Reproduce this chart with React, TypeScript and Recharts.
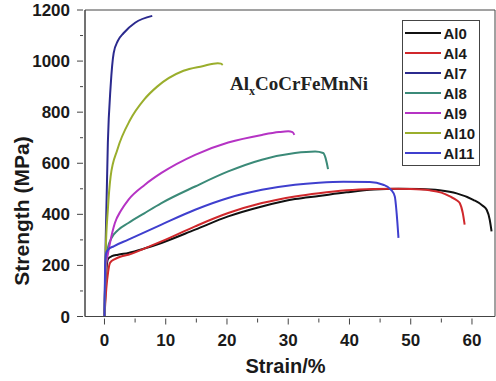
import * as React from "react";
import { LineChart, Line, XAxis, YAxis, ReferenceArea } from "recharts";

// [strain %, strength MPa]
const al0 = [
  [0, 0], [0.2, 120], [0.4, 205], [0.6, 226], [1.2, 236], [2.2, 242], [3.9, 249], [6.5, 266],
  [9.3, 288], [14.8, 340], [20.2, 392], [25.7, 431], [31.1, 460], [35, 472], [39.5, 486],
  [44, 497], [48, 500], [51.5, 499], [54.7, 494], [57.5, 482], [60.2, 457], [61.7, 435],
  [62.4, 418], [62.9, 379], [63.2, 333]
];
const al4 = [
  [0, 0], [0.3, 110], [0.6, 175], [0.9, 210], [1.7, 225], [2.7, 235], [3.9, 242], [6.5, 266],
  [9.3, 294], [14.8, 353], [20.2, 405], [25.7, 444], [31.1, 470], [35, 483], [39.5, 494],
  [44, 499], [47, 500], [50, 499], [53.1, 494], [55, 485], [56.4, 470], [57.5, 455], [58, 444],
  [58.5, 405], [58.8, 360]
];
const al7 = [
  [0, 0], [0.2, 300], [0.55, 679], [1, 900], [1.5, 1031], [2.2, 1080], [3.1, 1109], [5, 1150], [7.8, 1177]
];
const al8 = [
  [0, 0], [0.2, 200], [0.5, 265], [1.17, 308], [2.2, 338], [3.9, 366], [6.5, 404], [9.3, 444],
  [14.8, 509], [20.2, 568], [25.7, 614], [31.1, 640], [34.4, 646], [35.7, 640], [36.1, 620], [36.5, 577]
];
const al9 = [
  [0, 0], [0.2, 180], [0.6, 250], [0.9, 288], [1.7, 366], [2.7, 415], [3.9, 457], [6.6, 516],
  [9.3, 562], [14.8, 633], [20.2, 681], [25.7, 711], [28.5, 722], [30, 725], [30.7, 722], [31, 711]
];
const al10 = [
  [0, 0], [0.2, 250], [0.55, 418], [1, 548], [2.1, 653], [4.2, 770], [6.5, 850], [8.6, 900],
  [12.9, 962], [16, 980], [18.5, 992], [19, 990], [19.3, 985]
];
const al11 = [
  [0, 0], [0.1, 200], [0.3, 250], [0.6, 262], [1.5, 275], [3.9, 301], [9.3, 360], [14.8, 418],
  [20.2, 464], [25.7, 496], [31.1, 516], [35, 524], [39, 528], [43.3, 527], [45.5, 516],
  [46.8, 496], [47.4, 470], [47.7, 405], [48, 308]
];

const seriesNames = ["Al0", "Al4", "Al7", "Al8", "Al9", "Al10", "Al11"];
const seriesColors = ["#111111", "#d0282c", "#2b2a8e", "#3b8a78", "#b533c4", "#9aae2c", "#3f3fce"];
const seriesData = [al0, al4, al7, al8, al9, al10, al11];

const xTicks = [0, 5, 10, 15, 20, 25, 30, 35, 40, 45, 50, 55, 60];
const yTicks = [0, 100, 200, 300, 400, 500, 600, 700, 800, 900, 1000, 1100, 1200];

const font = "'Liberation Sans', Arial, sans-serif";
const axisColor = "#444";

const XTick = (props: any) => {
  const { x, y, payload } = props;
  const major = payload.value % 10 === 0;
  return (
    <g>
      <line x1={x} y1={y} x2={x} y2={y + (major ? 6 : 4)} stroke={axisColor} />
      {major && (
        <text x={x} y={y + 27} textAnchor="middle" fontFamily={font} fontWeight="bold" fontSize={17} fill="#1a1a1a">
          {payload.value}
        </text>
      )}
    </g>
  );
};

const YTick = (props: any) => {
  const { x, y, payload } = props;
  const major = payload.value % 200 === 0;
  return (
    <g>
      <line x1={x - (major ? 6 : 3)} y1={y} x2={x} y2={y} stroke={axisColor} />
      {major && (
        <text x={x - 13} y={y + 6} textAnchor="end" fontFamily={font} fontWeight="bold" fontSize={17} fill="#1a1a1a">
          {payload.value}
        </text>
      )}
    </g>
  );
};

export default function App() {
  return (
    <div style={{ position: "absolute", left: 0, top: 0, width: 496, height: 381, background: "#fff" }}>
      <LineChart width={496} height={381} margin={{ top: 10, right: 1, bottom: 0, left: 0 }}>
        <XAxis
          dataKey="0"
          type="number"
          domain={[-3.18, 63.76]}
          ticks={xTicks}
          interval={0}
          allowDataOverflow
          height={64.5}
          tickSize={0}
          tickLine={false}
          tick={<XTick />}
          stroke={axisColor}
        />
        <YAxis
          type="number"
          domain={[0, 1200]}
          ticks={yTicks}
          interval={0}
          width={85}
          tickSize={0}
          tickLine={false}
          tick={<YTick />}
          stroke={axisColor}
        />
        <ReferenceArea x1={-3.18} x2={63.76} y1={0} y2={1200} fill="none" stroke={axisColor} strokeWidth={1} ifOverflow="visible" />
        {seriesData.map((d, i) => (
          <Line
            key={seriesNames[i]}
            data={d}
            dataKey="1"
            type="monotone"
            stroke={seriesColors[i]}
            strokeWidth={2}
            dot={false}
            activeDot={false}
            isAnimationActive={false}
          />
        ))}
      </LineChart>

      <div
        style={{
          position: "absolute", left: 21.7, top: 210.5, transform: "translate(-50%, -50%) rotate(-90deg)",
          whiteSpace: "nowrap", fontFamily: font, fontWeight: "bold", fontSize: 21, color: "#1a1a1a"
        }}
      >
        Strength (MPa)
      </div>
      <div
        style={{
          position: "absolute", left: 285.5, top: 366, transform: "translate(-50%, -50%)",
          whiteSpace: "nowrap", fontFamily: font, fontWeight: "bold", fontSize: 20, color: "#1a1a1a"
        }}
      >
        Strain/%
      </div>

      <div
        style={{
          position: "absolute", left: 230, top: 73, whiteSpace: "nowrap",
          fontFamily: "'Liberation Serif', 'Times New Roman', serif", fontWeight: "bold", fontSize: 19, color: "#222"
        }}
      >
        Al<sub style={{ fontSize: 12 }}>x</sub>CoCrFeMnNi
      </div>

      <div
        style={{
          position: "absolute", left: 401.5, top: 20, width: 76, height: 142, border: `1.5px solid ${axisColor}`,
          paddingTop: 2, boxSizing: "content-box"
        }}
      >
        {seriesNames.map((n, i) => (
          <div key={n} style={{ display: "flex", alignItems: "center", height: 20, fontFamily: font, fontWeight: "bold", fontSize: 15, color: "#1a1a1a" }}>
            <span style={{ display: "inline-block", width: 36, height: 2, marginLeft: 2, marginRight: 3, background: seriesColors[i] }} />
            {n}
          </div>
        ))}
      </div>
    </div>
  );
}
